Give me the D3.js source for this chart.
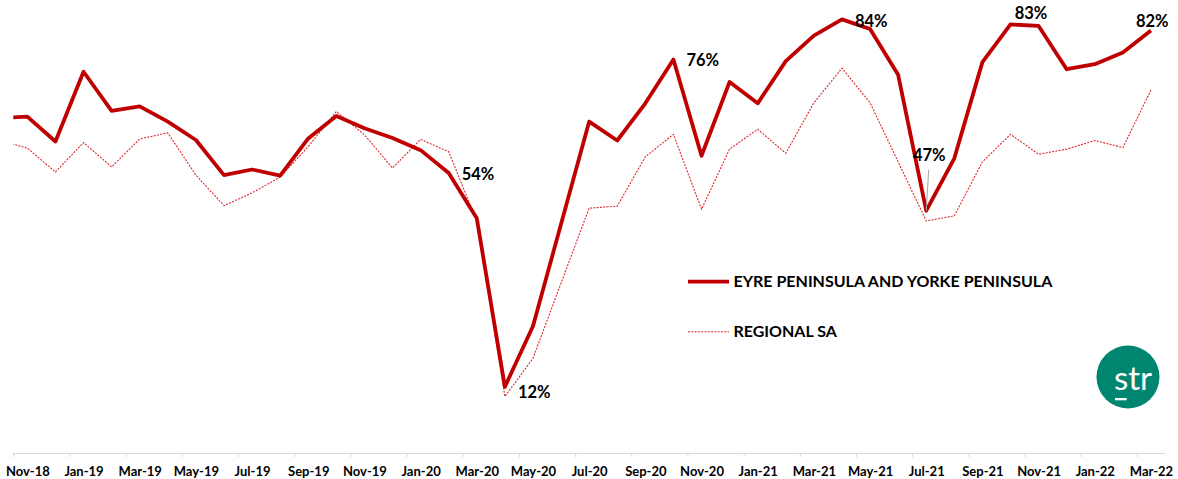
<!DOCTYPE html>
<html>
<head>
<meta charset="utf-8">
<script src="https://cdn.jsdelivr.net/npm/d3@7"></script>
<style>
  body { margin: 0; background: #fff; }
  svg { display: block; font-family: Lato, "Open Sans", sans-serif; }
</style>
</head>
<body>
<div id="container"></div>
<script>
/* CONSTANTS AND GLOBALS */
const width = 1178,
  height = 479;

/* DATA */
const months = [
  "Nov-18", "Dec-18", "Jan-19", "Feb-19", "Mar-19", "Apr-19", "May-19", "Jun-19",
  "Jul-19", "Aug-19", "Sep-19", "Oct-19", "Nov-19", "Dec-19", "Jan-20", "Feb-20",
  "Mar-20", "Apr-20", "May-20", "Jun-20", "Jul-20", "Aug-20", "Sep-20", "Oct-20",
  "Nov-20", "Dec-20", "Jan-21", "Feb-21", "Mar-21", "Apr-21", "May-21", "Jun-21",
  "Jul-21", "Aug-21", "Sep-21", "Oct-21", "Nov-21", "Dec-21", "Jan-22", "Feb-22",
  "Mar-22"
];

// occupancy %, Eyre Peninsula and Yorke Peninsula
const eyre = [
  65.1, 60.2, 73.9, 66.2, 67.1, 64.1, 60.5, 53.6,
  54.7, 53.5, 60.8, 65.2, 62.8, 60.9, 58.5, 54.0,
  45.1, 12.0, 23.9, 44.0, 64.1, 60.4, 67.7, 76.3,
  57.4, 71.9, 67.7, 76.0, 81.0, 84.2, 82.3, 73.3,
  46.6, 56.9, 75.8, 83.2, 82.9, 74.4, 75.4, 77.7,
  82.0
];

// occupancy %, Regional SA
const regional = [
  58.9, 54.2, 60.0, 55.2, 60.7, 61.9, 53.6, 47.6,
  50.1, 53.2, 59.2, 66.1, 61.5, 55.0, 60.6, 58.2,
  44.5, 10.1, 17.6, 32.4, 47.1, 47.5, 57.2, 61.6,
  46.9, 58.7, 62.6, 57.9, 67.8, 74.6, 67.8, 56.2,
  44.6, 45.6, 56.2, 61.6, 57.7, 58.7, 60.4, 59.0,
  70.3
];

// month before Nov-18 (Oct-18): the lines come in from the left edge
const eyreBefore = 64.8,
  regionalBefore = 60.4;

const seriesNames = ["EYRE PENINSULA AND YORKE PENINSULA", "REGIONAL SA"];

// data labels on the Eyre line
const annotations = [
  { month: "Feb-20", pos: "right", dx: 13, dy: 1.5 },
  { month: "Apr-20", pos: "right", dx: 13, dy: 5 },
  { month: "Oct-20", pos: "right", dx: 13, dy: 0.5 },
  { month: "Apr-21", pos: "right", dx: 13, dy: 1.4 },
  { month: "Jul-21", pos: "above", dx: 3, dy: -55, leader: true },
  { month: "Oct-21", pos: "above", dx: 20.5, dy: -11.7 },
  { month: "Mar-22", pos: "above", dx: 1.3, dy: -9.3 }
];

const darkRed = "#C00000",
  lightRed = "#E0262B";

/* SVG */
const svg = d3.select("#container")
  .append("svg")
  .attr("width", width)
  .attr("height", height)
  .style("background-color", "#fff");

/* SCALES */
const xScale = d3.scaleLinear()
  .domain([-0.5, months.length - 0.5])
  .range([13.3, 1165]);

const yScale = d3.scaleLinear()
  .domain([-1, 88])
  .range([453, 0]);

/* AXIS */
const axisY = yScale(-1);

const tickAxis = svg.append("g")
  .attr("class", "x-axis")
  .attr("transform", `translate(0,${axisY})`)
  .call(d3.axisBottom(xScale)
    .tickValues(d3.range(-0.5, months.length - 0.5, 2))
    .tickSize(4)
    .tickSizeOuter(0)
    .tickFormat(""));
tickAxis.select(".domain").attr("stroke", "#D9D9D9");
tickAxis.selectAll(".tick line").attr("stroke", "#D9D9D9");

const labelAxis = svg.append("g")
  .attr("class", "x-labels")
  .attr("transform", `translate(0,${axisY})`)
  .call(d3.axisBottom(xScale)
    .tickValues(d3.range(0, months.length, 2))
    .tickSize(0)
    .tickPadding(13.5)
    .tickFormat(i => months[i]));
labelAxis.select(".domain").remove();
labelAxis.selectAll("text")
  .attr("font-family", "Lato, sans-serif")
  .attr("font-size", 13)
  .attr("font-weight", 700)
  .attr("fill", "#000");

/* LINES */
svg.append("clipPath")
  .attr("id", "plot-clip")
  .append("rect")
  .attr("x", xScale(-0.5))
  .attr("y", 0)
  .attr("width", xScale(months.length - 0.5) - xScale(-0.5))
  .attr("height", height);

const line = d3.line()
  .x(d => xScale(d.i))
  .y(d => yScale(d.v));

const toPoints = (before, vals) =>
  [{ i: -1, v: before }].concat(vals.map((v, i) => ({ i, v })));

svg.append("path")
  .datum(toPoints(regionalBefore, regional))
  .attr("clip-path", "url(#plot-clip)")
  .attr("fill", "none")
  .attr("stroke", lightRed)
  .attr("stroke-width", 1.1)
  .attr("stroke-dasharray", "2,1.3")
  .attr("d", line);

svg.append("path")
  .datum(toPoints(eyreBefore, eyre))
  .attr("clip-path", "url(#plot-clip)")
  .attr("fill", "none")
  .attr("stroke", darkRed)
  .attr("stroke-width", 3.8)
  .attr("stroke-linejoin", "round")
  .attr("d", line);

/* DATA LABELS */
annotations.forEach(a => {
  const i = months.indexOf(a.month);
  const px = xScale(i),
    py = yScale(eyre[i]);
  if (a.leader) {
    svg.append("line")
      .attr("x1", px).attr("y1", py)
      .attr("x2", px + a.dx - 0.5).attr("y2", py + a.dy + 14)
      .attr("stroke", "#A6A6A6")
      .attr("stroke-width", 1);
  }
  svg.append("text")
    .attr("x", px + a.dx)
    .attr("y", py + a.dy)
    .attr("dy", "0.35em")
    .attr("text-anchor", a.pos === "right" ? "start" : "middle")
    .attr("font-size", 16.5)
    .attr("font-weight", 700)
    .attr("fill", "#000")
    .text(Math.round(eyre[i]) + "%");
});

/* LEGEND */
const legend = svg.append("g").attr("class", "legend");
const legendStyles = [
  { stroke: darkRed, width: 3.8, dash: null },
  { stroke: lightRed, width: 1.1, dash: "2,1.3" }
];
seriesNames.forEach((name, k) => {
  const ly = 281.7 + k * 50;
  legend.append("line")
    .attr("x1", 688).attr("x2", 729)
    .attr("y1", ly).attr("y2", ly)
    .attr("stroke", legendStyles[k].stroke)
    .attr("stroke-width", legendStyles[k].width)
    .attr("stroke-dasharray", legendStyles[k].dash);
  legend.append("text")
    .attr("x", 733.5)
    .attr("y", ly)
    .attr("dy", "0.35em")
    .attr("font-size", 16)
    .attr("font-weight", 700)
    .attr("fill", "#000")
    .text(name);
});

/* LOGO */
const logo = svg.append("g").attr("transform", "translate(1128,377)");
logo.append("circle")
  .attr("r", 31.5)
  .attr("fill", "#008571");
logo.append("text")
  .attr("x", 5)
  .attr("y", 13)
  .attr("text-anchor", "middle")
  .attr("font-family", "Lato, sans-serif")
  .attr("font-size", 33)
  .attr("font-weight", 400)
  .attr("fill", "#fff")
  .text("str");
logo.append("rect")
  .attr("x", -13)
  .attr("y", 21)
  .attr("width", 11.7)
  .attr("height", 2.3)
  .attr("fill", "#fff");
</script>
</body>
</html>
